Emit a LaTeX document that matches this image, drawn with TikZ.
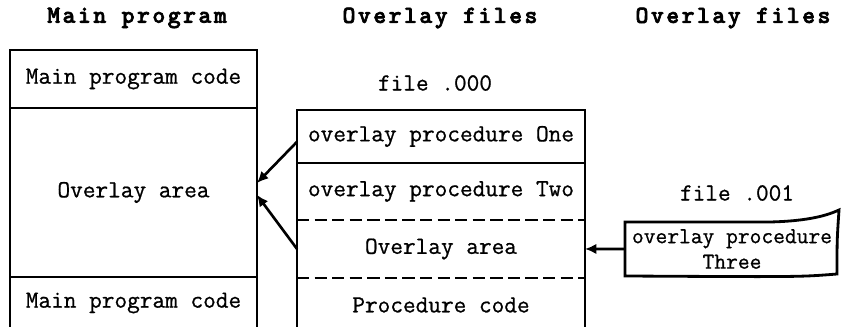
\documentclass[tikz,border=0pt]{standalone}
\usepackage{fontspec}
\usetikzlibrary{positioning,arrows.meta}
\newfontfamily\boxfont{Latin Modern Mono}[FakeBold=0.8]
\newfontfamily\headfont{lmmonolt10-bold.otf}[LetterSpace=10,FakeBold=2.5]

\begin{document}
\begin{tikzpicture}[x=0.02cm,y=-0.02cm,
	cell/.style={inner sep=0pt,outer sep=0pt,align=center,font=\boxfont\fontsize{14}{15}\selectfont},
	leftcell/.style={cell,minimum width=4.94cm},
	midcell/.style={cell,minimum width=5.76cm},
	head/.style={font=\headfont\fontsize{14}{16}\selectfont},
	frame/.style={line width=1.6pt},
	dashline/.style={line width=1.2pt,dash pattern=on 7pt off 3pt},
	arrow/.style={line width=1.5pt,-{Latex[length=6.5pt,width=6pt]}}]

	\useasboundingbox (0,0) rectangle (848,327);

	\node[head] (titleMain) at (137,18) {Main program};
	\node[head] (titleFiles) at (440,18) {Overlay files};
	\node[head] (titleMore) at (733,18) {Overlay files};

	% main program
	\node[leftcell, minimum height=1.16cm] (mainTop) at (133.5,79) {Main program code};
	\node[leftcell, minimum height=3.38cm, below=0pt of mainTop] (overlayL) {Overlay area};
	\node[leftcell, minimum height=1.04cm, below=0pt of overlayL] (mainBot) {Main program code};
	\draw[frame] (mainBot.south west) |- (mainTop.north east) -- (mainBot.south east);
	\draw[frame] (mainTop.south west) -- (mainTop.south east);
	\draw[frame] (overlayL.south west) -- (overlayL.south east);

	% file .000
	\node[cell] (fileZero) at (435,83) {file .000};
	\node[midcell, minimum height=1.06cm] (procOne) at (441,136.5) {overlay procedure One};
	\node[midcell, minimum height=1.14cm, below=0pt of procOne] (procTwo) {overlay procedure Two};
	\node[midcell, minimum height=1.16cm, below=0pt of procTwo] (overlayM) {Overlay area};
	\node[midcell, minimum height=1.08cm, below=0pt of overlayM] (procCode) {Procedure code};
	\draw[frame] (procCode.south west) |- (procOne.north east) -- (procCode.south east);
	\draw[frame] (procOne.south west) -- (procOne.south east);
	\draw[dashline] (procTwo.south west) -- (procTwo.south east);
	\draw[dashline] (overlayM.south west) -- (overlayM.south east);

	% file .001
	\node[cell] (fileOne) at (737,193) {file .001};
	\node[cell, font=\boxfont\fontsize{13}{14.5}\selectfont, minimum width=4.28cm, minimum height=1.08cm] (procThree) at (732,249) {overlay procedure\\Three};
	\draw[frame] (procThree.north west) -- (770,222) .. controls (810,221) and (828,215) .. (839,210)
		.. controls (837,240) .. (837,274) .. controls (800,277) .. (procThree.south west) -- cycle;

	\draw[arrow] ([yshift=-3pt]procOne.west) -- ([yshift=5.4pt]overlayL.east);
	\draw[arrow] (overlayM.west) -- ([yshift=-1.4pt]overlayL.east);
	\draw[arrow] (procThree.west) -- (overlayM.east);

\end{tikzpicture}
\end{document}
